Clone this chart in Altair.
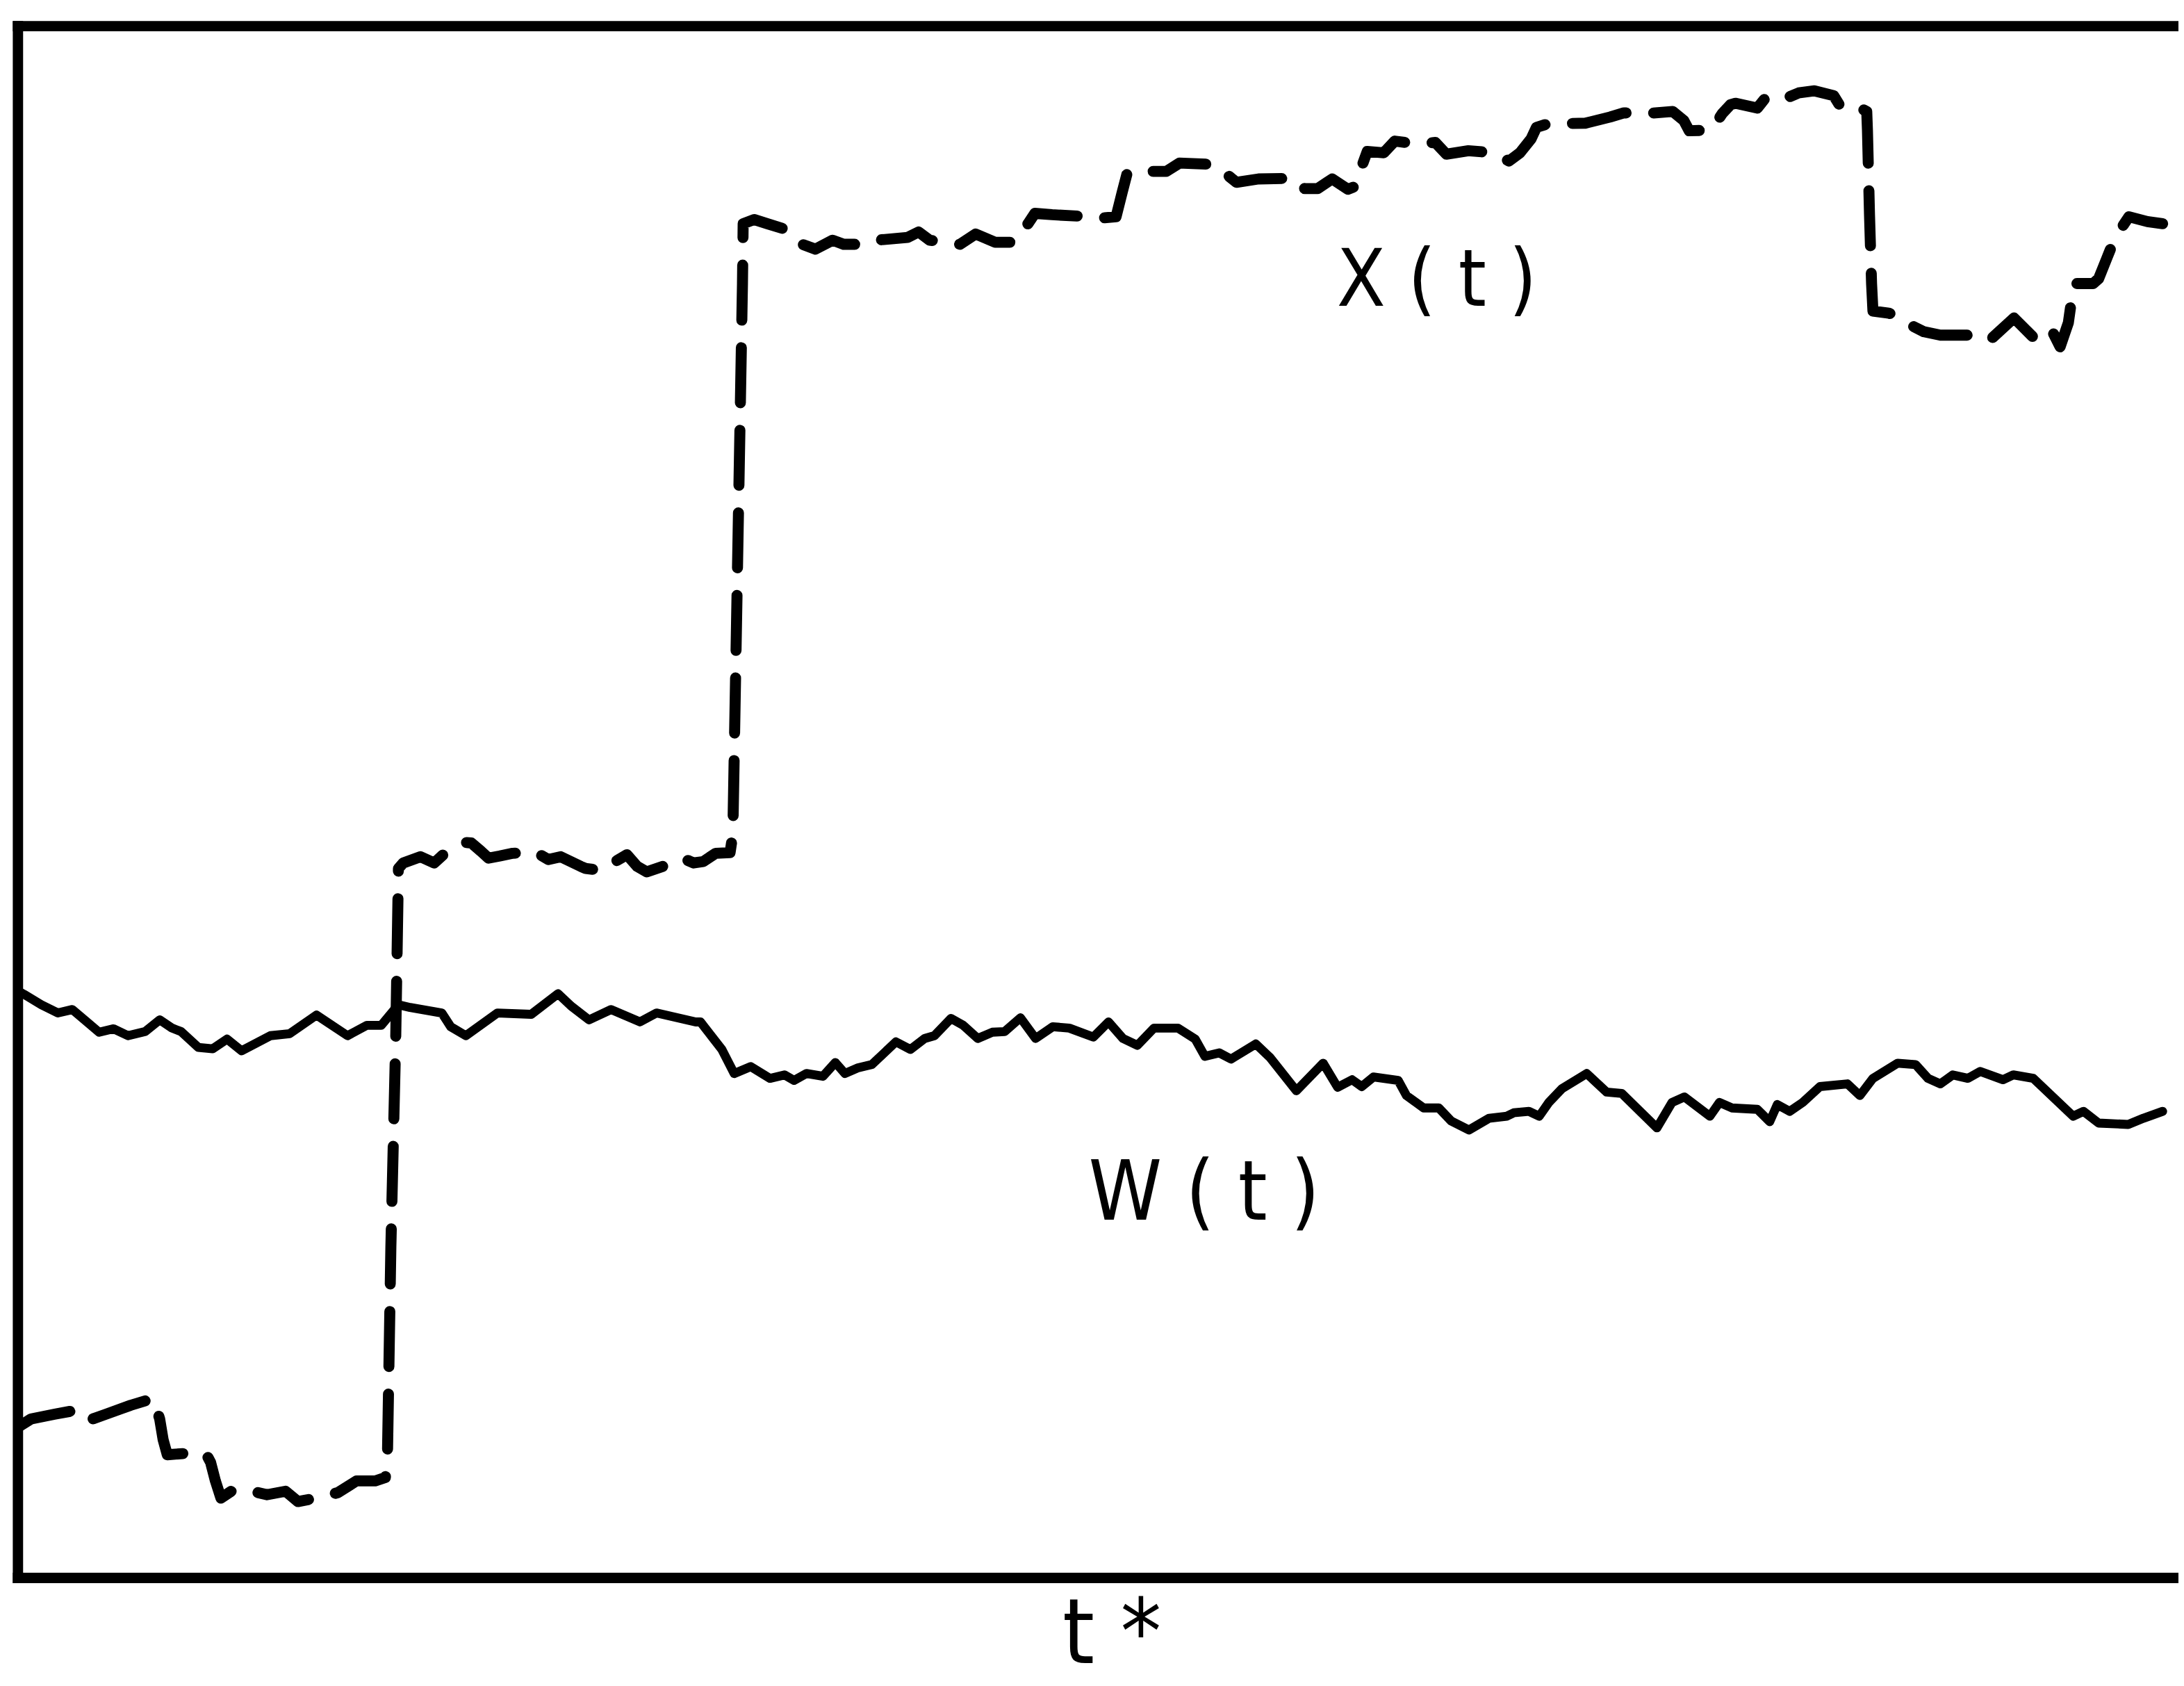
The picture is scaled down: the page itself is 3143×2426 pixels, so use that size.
import altair as alt
import pandas as pd

# W(t): time (t) and level (v)
W_T = [0, 9, 34, 58, 79, 99, 118, 139, 160, 185, 206, 224, 237, 262, 283, 304, 325, 367, 395, 434,
       479, 507, 528, 553, 570, 616, 629, 651, 697, 746, 785, 804, 830, 862, 904, 928, 985, 992, 1023, 1041,
       1065, 1093, 1114, 1128, 1146, 1170, 1188, 1202, 1220, 1241, 1276, 1297, 1318, 1332, 1356, 1374, 1395, 1416, 1434, 1457,
       1479, 1504, 1528, 1563, 1585, 1606, 1627, 1651, 1686, 1711, 1725, 1746, 1763, 1799, 1820, 1858, 1897, 1918, 1939, 1953,
       1970, 2006, 2018, 2043, 2065, 2083, 2109, 2138, 2164, 2174, 2196, 2211, 2225, 2244, 2280, 2309, 2331, 2382, 2404, 2422,
       2459, 2473, 2491, 2528, 2546, 2557, 2575, 2594, 2619, 2659, 2677, 2696, 2732, 2758, 2776, 2794, 2812, 2834, 2852, 2885,
       2900, 2929, 2987, 3002, 3024, 3067, 3089, 3117]
W_V = [853, 848, 833, 821, 826, 809, 793, 798, 788, 794, 811, 799, 794, 771, 769, 783, 766, 788, 791, 818,
       788, 803, 803, 833, 829, 821, 801, 788, 821, 819, 849, 831, 811, 826, 808, 821, 808, 808, 768, 733,
       743, 726, 731, 723, 733, 729, 749, 733, 741, 746, 779, 768, 784, 788, 813, 803, 784, 793, 794, 814,
       784, 801, 799, 786, 808, 784, 774, 799, 799, 783, 758, 763, 754, 776, 756, 708, 748, 713, 724, 714,
       728, 723, 701, 683, 683, 664, 651, 668, 671, 676, 678, 671, 691, 711, 733, 706, 704, 654, 691, 699,
       671, 691, 683, 681, 663, 688, 678, 691, 714, 718, 701, 726, 748, 746, 726, 718, 731, 726, 736, 724,
       731, 726, 671, 678, 661, 659, 668, 678]

# X(t): time (t) and level (v)
X_T = [0, 19, 54, 86, 103, 128, 164, 197, 206, 211, 217, 244, 273, 280, 287, 295, 313, 340, 362, 389,
       407, 443, 465, 492, 519, 534, 537, 542, 549, 553,
       560, 585, 605, 618, 635, 648, 659, 673, 684, 700, 719, 735, 750, 771, 789, 818, 825, 850, 868, 885,
       900, 914, 937, 954, 966, 982, 996, 1014, 1035, 1039, 1046, 1053, 1054,
       1070, 1089, 1121, 1140, 1159, 1184, 1200, 1232, 1248, 1293, 1309, 1325, 1350, 1369, 1392, 1420, 1449, 1468, 1478, 1503,
       1542, 1574, 1596, 1605, 1612, 1625, 1669, 1688, 1739, 1755, 1771, 1803, 1857, 1870, 1889, 1910, 1933, 1946, 1953, 1961,
       1985, 2001, 2033, 2060, 2076, 2108, 2144, 2167, 2183, 2199, 2207, 2223, 2278, 2314, 2334, 2366, 2405, 2421, 2429, 2461,
       2477, 2489, 2496, 2528, 2540, 2564, 2588, 2611, 2639, 2647, 2661, 2674, 2687, 2688, 2691, 2694, 2696,
       2719, 2739, 2750, 2770, 2794, 2837, 2865, 2901, 2933, 2956, 2968, 2980, 2988, 3016, 3024, 3036, 3048, 3068, 3095, 3117]
X_V = [219, 231, 238, 244, 229, 238, 251, 261, 231, 201, 179, 181, 181, 168, 141, 116, 128, 126, 121, 126,
       111, 118, 124, 141, 141, 146, 176, 481, 781, 1031,
       1039, 1048, 1039, 1051, 1064, 1069, 1068, 1056, 1046, 1049, 1053, 1054, 1056, 1044, 1048, 1034, 1031, 1028, 1041, 1051,
       1034, 1026, 1034, 1043, 1046, 1039, 1041, 1053, 1054, 1081, 1481, 1881, 1968,
       1974, 1968, 1958, 1938, 1931, 1944, 1938, 1938, 1944, 1948, 1956, 1944, 1941, 1938, 1953, 1941, 1941, 1968, 1983, 1981,
       1979, 1976, 1978, 2014, 2041, 2044, 2044, 2056, 2054, 2041, 2028, 2033, 2034, 2019, 2019, 2033, 2018, 2023, 2051, 2073,
       2071, 2088, 2084, 2086, 2069, 2074, 2071, 2059, 2071, 2091, 2108, 2113, 2114, 2123, 2129, 2128, 2131, 2118, 2103, 2104,
       2128, 2141, 2143, 2136, 2151, 2148, 2158, 2161, 2154, 2141, 2134, 2138, 2131, 2104, 1981, 1881, 1841,
       1838, 1831, 1821, 1811, 1806, 1806, 1798, 1831, 1799, 1813, 1789, 1824, 1881, 1881, 1888, 1918, 1948, 1978, 1971, 1968]

LABELS = ["X ( t )", "W ( t )", "t *"]
LABEL_T = [2062, 1724, 1590]
LABEL_V = [1849, 521, -124]
LABEL_SIZE = [115, 120, 132]

# frame: left edge at the time origin, bottom and top edges at the level range
FRAME_T = [0]
FRAME_V = [0, 2255]

FONT = "Liberation Sans Narrow, DejaVu Sans Condensed, Liberation Sans, sans-serif"

# the plot runs on past the right edge of the picture (no right border is visible)
PLOT_W = 3140
xs = alt.Scale(domain=[0, PLOT_W], nice=False, zero=False)
ys = alt.Scale(domain=[0, 2255], nice=False, zero=False)

df_w = pd.DataFrame({"t": W_T, "v": W_V})
df_x = pd.DataFrame({"t": X_T, "v": X_V})
df_l = pd.DataFrame({"label": LABELS, "t": LABEL_T, "v": LABEL_V, "s": LABEL_SIZE})
df_ft = pd.DataFrame({"t": FRAME_T})
df_fv = pd.DataFrame({"v": FRAME_V})

left_edge = alt.Chart(df_ft).mark_rule(
    color="black", strokeWidth=15, strokeCap="square"
).encode(x=alt.X("t:Q", scale=xs, axis=None))

h_edges = alt.Chart(df_fv).mark_rule(
    color="black", strokeWidth=15, strokeCap="square"
).encode(y=alt.Y("v:Q", scale=ys, axis=None))

w_line = alt.Chart(df_w).mark_line(
    color="black", strokeWidth=13, strokeJoin="round", strokeCap="round", clip=True
).encode(
    x=alt.X("t:Q", scale=xs, axis=None),
    y=alt.Y("v:Q", scale=ys, axis=None),
    order="t:Q",
)

x_line = alt.Chart(df_x).mark_line(
    color="black", strokeWidth=16, strokeDash=[80, 40], strokeCap="round",
    strokeJoin="round", clip=True
).encode(
    x=alt.X("t:Q", scale=xs, axis=None),
    y=alt.Y("v:Q", scale=ys, axis=None),
    order="t:Q",
)

labels = alt.Chart(df_l).mark_text(
    font=FONT, align="center", baseline="alphabetic", color="black"
).encode(
    x=alt.X("t:Q", scale=xs, axis=None),
    y=alt.Y("v:Q", scale=ys, axis=None),
    text="label:N",
    size=alt.Size("s:Q", scale=None, legend=None),
)

chart = alt.layer(left_edge, h_edges, w_line, x_line, labels).properties(
    width=PLOT_W,
    height=2255,
    padding={"left": 18, "top": 18, "right": 0, "bottom": 137},
    autosize=alt.AutoSizeParams(type="none"),
    background="white",
).configure_view(stroke=None, strokeWidth=0)

chart.save("out.html", embed_options={"renderer": "svg", "actions": False})
